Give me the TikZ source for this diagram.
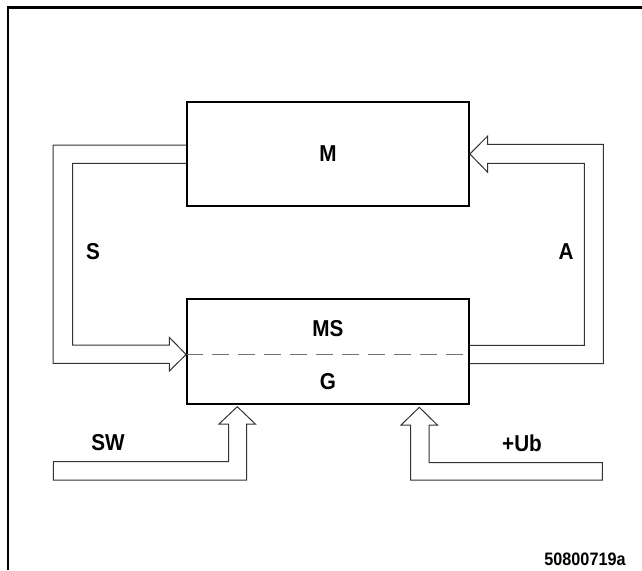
\documentclass[tikz,border=0pt]{standalone}
\usepackage{fontspec}
\newfontfamily\labfont{Liberation Sans}[FakeStretch=0.9]
\usetikzlibrary{calc}
\begin{document}
\begin{tikzpicture}[x=1pt,y=-1pt,
  block/.style={draw=black,line width=1.8pt,minimum width=282pt,inner sep=0pt},
  lbl/.style={font=\labfont\bfseries\fontsize{23}{26}\selectfont,inner sep=0pt},
  idlbl/.style={font=\labfont\bfseries\fontsize{18}{20}\selectfont,inner sep=0pt},
  pipe/.style={draw=black!80,line width=1pt,line join=miter},
  frame/.style={draw=black,line width=2.4pt}]
\useasboundingbox (0,0) rectangle (642,570);

% outer frame (left and top edges)
\draw[frame] (8,570) -- (8,7.5) -- (642,7.5);

% blocks
\node[block,minimum height=104pt] (M) at (328,154) {};
\node[lbl] at (M) {M};
\node[block,minimum height=105pt] (MS) at (328,351.5) {};
\coordinate (split) at ($(MS.west)+(0,3)$);
\coordinate (splitE) at ($(MS.east)+(0,3)$);
\draw[draw=black!55,line width=1.1pt,dash pattern=on 17pt off 9pt] (split) -- (splitE);
\node[lbl] (msl) at (328,329) {MS};
\node[lbl] (gl) at (328,382) {G};

% S: feedback pipe from M to MS
\draw[pipe] ($(M.west)+(0,-9)$) -| (53,363.3) -- (169.3,363.3) -- (169.3,371)
  -- (split) -- (169.3,337.3) -- (169.3,345) -- (72.7,345) |- ($(M.west)+(0,9.3)$);
\node[lbl] (sl) at (93,252) {S};

% A: pipe from MS back to M
\draw[pipe] ($(MS.east)+(0,-6.2)$) -- (584.3,345.3) -- (584.3,163.3) -- (487.7,163.3)
  -- (487.7,172.3) -- (M.east) -- (487.7,136) -- (487.7,144.3) -- (603.3,144.3)
  -- (603.3,363.7) -- ($(MS.east)+(0,12.2)$);
\node[lbl] (al) at (566,252) {A};

% SW input
\coordinate (swtip) at (237.3,406.7);
\draw[pipe] (53.3,480) -- (53.3,461.7) -- (228.7,461.7) -- (228.7,424) -- (219,424)
  -- (swtip) -- (255.3,424) -- (246.7,424) -- (246.7,480) -- cycle;
\node[lbl] (swl) at (108,443) {SW};

% +Ub supply input
\coordinate (ubtip) at (419.3,407.3);
\draw[pipe] (410.7,480) -- (410.7,425) -- (401,425) -- (ubtip) -- (437.3,425)
  -- (429,425) -- (429,462.7) -- (602.3,462.7) -- (602.3,480) -- cycle;
\node[lbl] (ubl) at (522,443) {+Ub};

% drawing number
\node[idlbl] (id) at (585,559) {50800719a};
\end{tikzpicture}
\end{document}
